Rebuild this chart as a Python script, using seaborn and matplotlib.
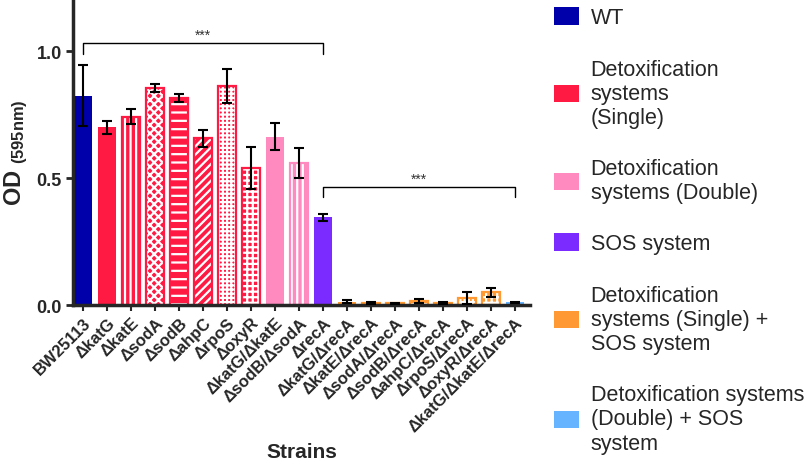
import matplotlib
matplotlib.use("Agg")
import matplotlib.pyplot as plt
from matplotlib.patches import Patch, Rectangle

import seaborn as sns
import pandas as pd
import numpy as np

# data
strains = ["BW25113", "ΔkatG", "ΔkatE", "ΔsodA", "ΔsodB", "ΔahpC", "ΔrpoS",
           "ΔoxyR", "ΔkatG/ΔkatE", "ΔsodB/ΔsodA", "ΔrecA",
           "ΔkatG/ΔrecA", "ΔkatE/ΔrecA", "ΔsodA/ΔrecA", "ΔsodB/ΔrecA",
           "ΔahpC/ΔrecA", "ΔrpoS/ΔrecA", "ΔoxyR/ΔrecA", "ΔkatG/ΔkatE/ΔrecA"]
od = [0.824, 0.700, 0.741, 0.854, 0.815, 0.656, 0.863, 0.539, 0.663, 0.559,
      0.345, 0.013, 0.008, 0.006, 0.017, 0.008, 0.027, 0.050, 0.010]
sd = [0.120, 0.025, 0.030, 0.016, 0.014, 0.033, 0.068, 0.083, 0.053, 0.060,
      0.013, 0.005, 0.003, 0.003, 0.008, 0.004, 0.023, 0.018, 0.003]
groups = ["WT"] + ["single"] * 7 + ["double"] * 2 + ["sos"] + \
         ["single_sos"] * 7 + ["double_sos"]
hatches = ["", "", "|||", "xxxx", "--", "////", "++++", "+++", "", "|||", "",
           "", "|||", "xxxx", "--", "////", "++++", "+++", ""]

group_colors = {"WT": "#0000AA", "single": "#FF1A44", "double": "#FF8AC0",
                "sos": "#7B2BFF", "single_sos": "#FF9933", "double_sos": "#66B3FF"}
legend_labels = {"WT": "WT",
                 "single": "Detoxification\nsystems\n(Single)",
                 "double": "Detoxification\nsystems (Double)",
                 "sos": "SOS system",
                 "single_sos": "Detoxification\nsystems (Single) +\nSOS system",
                 "double_sos": "Detoxification systems\n(Double) + SOS\nsystem"}

df = pd.DataFrame({"strain": strains, "od": od, "sd": sd, "group": groups})

sns.set_style("ticks")
plt.rcParams["font.family"] = ["Liberation Sans", "DejaVu Sans"]
plt.rcParams["mathtext.fontset"] = "custom"
plt.rcParams["mathtext.rm"] = "Liberation Sans"
plt.rcParams["mathtext.bf"] = "Liberation Sans:bold"
plt.rcParams["hatch.linewidth"] = 1.6

fig = plt.figure(figsize=(8.1, 4.64), dpi=100)
ax = fig.add_axes([0.0901, 0.3405, 0.5642, 0.6595])

bar_colors = [group_colors[g] for g in groups]
sns.barplot(data=df, x="strain", y="od", hue="strain", palette=bar_colors,
            saturation=1, errorbar=None, width=0.77, legend=False, ax=ax)

# hatches in white, coloured outline on top
for p in list(ax.patches):
    i = int(round(p.get_x() + p.get_width() / 2))
    p.set_linewidth(0)
    if hatches[i]:
        p.set_hatch(hatches[i])
        p.set_edgecolor("white")
        ax.add_patch(Rectangle((p.get_x(), 0), p.get_width(), p.get_height(),
                               fill=False, edgecolor=bar_colors[i], lw=1.6,
                               zorder=p.get_zorder() + 0.1))

ax.errorbar(np.arange(len(strains)), df["od"], yerr=df["sd"], fmt="none",
            ecolor="black", elinewidth=1.5, capsize=3.8, capthick=1.5, zorder=5)

# significance brackets
brackets = [(0, 10, 1.03, "***"), (10, 18, 0.465, "***")]
for a, b, h, txt in brackets:
    ax.plot([a, a, b, b], [h - 0.04, h, h, h - 0.04], color="black", lw=1)
    ax.text((a + b) / 2, h + 0.005, txt, ha="center", va="bottom",
            fontsize=10, color="#333333")

ax.set_xlim(-0.42, len(strains) - 0.38)
ax.set_ylim(0, 1.205)
ax.set_yticks([0.0, 0.5, 1.0])
ax.set_yticklabels(["0.0", "0.5", "1.0"], fontsize=13, fontweight="bold")
ax.set_xticks(np.arange(len(strains)))
ax.set_xticklabels(strains, rotation=45, ha="right", rotation_mode="anchor",
                   fontsize=12, fontweight="bold")
ax.tick_params(axis="y", length=5, width=2, pad=3)
ax.tick_params(axis="x", length=4, width=1.5, pad=3)

sns.despine(ax=ax)
for s in ["left", "bottom"]:
    ax.spines[s].set_linewidth(2.5)

ax.set_xlabel("Strains", fontsize=15, fontweight="bold", labelpad=6)
ax.set_ylabel(r"OD $\mathbf{_{(595nm)}}$", fontsize=17, fontweight="bold",
              labelpad=5)

handles = [Patch(facecolor=group_colors[g], edgecolor="none") for g in group_colors]
fig.legend(handles, [legend_labels[g] for g in group_colors], loc="upper left",
           bbox_to_anchor=(0.684, 0.982), frameon=False, fontsize=15.5,
           handlelength=1.15, handleheight=0.85, handletextpad=0.55,
           labelspacing=1.4, borderpad=0, borderaxespad=0)

fig.savefig("out.png", dpi=100)
